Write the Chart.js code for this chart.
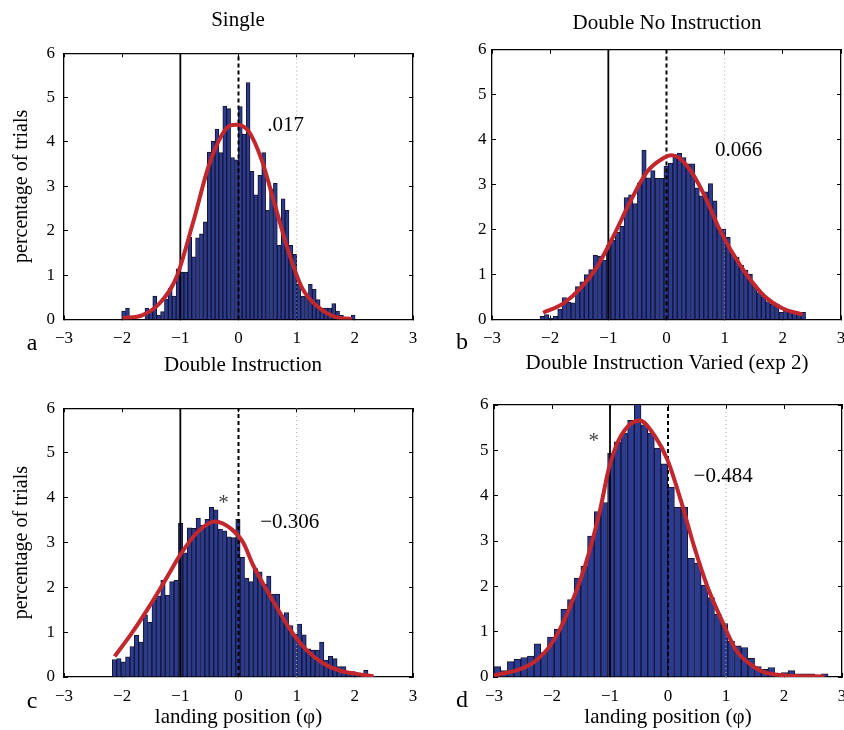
<!DOCTYPE html>
<html>
<head>
<meta charset="utf-8">
<script src="https://cdn.jsdelivr.net/npm/chart.js@4.4.1/dist/chart.umd.min.js"></script>
<style>
  html, body { margin: 0; padding: 0; background: #fff; }
  body { width: 844px; height: 730px; position: relative; overflow: hidden; font-family: "Liberation Serif", "Times New Roman", serif; }
  canvas { position: absolute; }
  .lbl { position: absolute; transform: translate(-50%, -50%); white-space: nowrap; font-size: 21px; line-height: 21px; color: #000; }
  .let { font-size: 24px; line-height: 24px; }
</style>
</head>
<body>
<canvas id="panelA" width="440" height="330" style="left:0px;top:30px"></canvas>
<canvas id="panelB" width="450" height="330" style="left:420px;top:30px"></canvas>
<canvas id="panelC" width="440" height="345" style="left:0px;top:385px"></canvas>
<canvas id="panelD" width="450" height="345" style="left:420px;top:385px"></canvas>

<div class="lbl" style="left:238px;top:19px">Single</div>
<div class="lbl" style="left:667px;top:22px">Double No Instruction</div>
<div class="lbl" style="left:243px;top:364px">Double Instruction</div>
<div class="lbl" style="left:667px;top:362px">Double Instruction Varied (exp 2)</div>
<div class="lbl let" style="left:32px;top:342px">a</div>
<div class="lbl let" style="left:462px;top:341px">b</div>
<div class="lbl let" style="left:32px;top:700px">c</div>
<div class="lbl let" style="left:462px;top:699px">d</div>

<script>
// x axis ticks (landing position) and y ticks (percentage of trials)
const xTicks = [-3, -2, -1, 0, 1, 2, 3];
const yTicks = [0, 1, 2, 3, 4, 5, 6];
// solid / dashed / dotted reference lines
const markerX = [-1, 0, 1];

// a: Single
const binStartA = -2.009, binWidthA = 0.0669;
const pctA = [0.19, 0.26, 0, 0, 0, 0, 0.26, 0.2, 0.53, 0.1,
  0.18, 0.46, 0.70, 0.53, 1.14, 1.07, 1.07, 1.85, 1.41, 1.84,
  1.93, 2.2, 3.77, 4.02, 4.29, 3.76, 4.81, 4.75, 3.65, 3.6,
  4.8, 4.18, 5.34, 3.34, 2.81, 3.25, 3.76, 2.46, 2.94, 3.07,
  1.67, 2.72, 2.46, 1.67, 1.47, 0.79, 0.53, 0.53, 0.79, 0.68,
  0.45, 0.26, 0.26, 0.26, 0.36, 0.19, 0.1, 0.05, 0.05, 0.1];
const fitXA = [-1.99, -1.65, -1.36, -1.07, -0.78, -0.5, -0.2, -0.06, 0.17, 0.4, 0.63, 0.86, 1.09, 1.37, 1.66, 1.95];
const fitYA = [0.03, 0.1, 0.36, 0.94, 2.19, 3.51, 4.32, 4.39, 4.25, 3.59, 2.56, 1.53, 0.72, 0.28, 0.06, 0.01];

// b: Double No Instruction
const binStartB = -2.175, binWidthB = 0.0761;
const pctB = [0.07, 0.11, 0.03, 0.07, 0.23, 0.49, 0.38, 0.37, 0.73, 0.84,
  1.0, 1.11, 1.43, 1.41, 1.32, 1.65, 1.76, 1.94, 2.07, 2.71,
  2.77, 2.58, 3.04, 3.77, 3.15, 3.31, 3.14, 3.14, 3.41, 3.48,
  3.66, 3.70, 3.6, 3.46, 3.46, 2.93, 2.75, 2.84, 3.02, 2.64,
  2.01, 2.01, 1.83, 1.48, 1.39, 1.21, 1.10, 1.01, 0.77, 0.6,
  0.51, 0.40, 0.34, 0.34, 0.16, 0.23, 0.16, 0.16, 0.11, 0.16];
const fitXB = [-2.12, -1.77, -1.48, -1.2, -0.91, -0.62, -0.33, -0.05, 0.08, 0.21, 0.44, 0.67, 0.9, 1.13, 1.41, 1.7, 1.99, 2.34];
const fitYB = [0.15, 0.36, 0.69, 1.16, 1.86, 2.63, 3.29, 3.59, 3.65, 3.6, 3.26, 2.71, 2.04, 1.49, 0.94, 0.5, 0.25, 0.11];

// c: Double Instruction
const binStartC = -2.17, binWidthC = 0.0758;
const pctC = [0.39, 0.41, 0.34, 0.45, 0.68, 0.93, 0.78, 1.39, 1.22, 1.71,
  1.81, 2.16, 1.83, 2.13, 2.16, 3.43, 2.77, 3.33, 3.32, 3.55,
  3.39, 3.52, 3.79, 3.73, 3.30, 3.26, 3.13, 3.11, 3.52, 2.67,
  2.21, 2.13, 2.42, 2.35, 2.07, 2.25, 1.85, 1.85, 1.37, 1.44,
  1.15, 0.95, 1.18, 0.94, 0.63, 0.6, 0.6, 0.78, 0.38, 0.46,
  0.41, 0.23, 0.23, 0.12, 0.12, 0.08, 0.04, 0.15, 0.01, 0.02];
const fitXC = [-2.13, -1.85, -1.56, -1.27, -0.98, -0.7, -0.41, -0.12, 0.08, 0.25, 0.48, 0.71, 0.94, 1.17, 1.46, 1.75, 2.03, 2.32];
const fitYC = [0.46, 0.95, 1.52, 2.14, 2.77, 3.24, 3.47, 3.3, 3.0, 2.5, 1.95, 1.44, 0.96, 0.6, 0.3, 0.14, 0.07, 0.02];

// d: Double Instruction Varied (exp 2)
const binStartD = -3.0, binWidthD = 0.1152;
const pctD = [0.23, 0.14, 0.34, 0.39, 0.43, 0.46, 0.73, 0.54, 0.88, 1.05,
  1.49, 1.71, 2.18, 2.44, 3.11, 3.65, 3.85, 4.94, 5.19, 5.38,
  5.66, 6.3, 5.56, 5.38, 5.05, 4.70, 4.19, 3.75, 3.75, 2.62,
  2.51, 2.03, 1.75, 1.38, 1.18, 0.79, 0.69, 0.65, 0.41, 0.23,
  0.17, 0.21, 0.04, 0.10, 0.14, 0.07, 0.07, 0.07, 0.04, 0.07];
const fitXD = [-3.0, -2.6, -2.3, -2.0, -1.72, -1.43, -1.17, -1.02, -0.82, -0.49, -0.22, -0.01, 0.22, 0.45, 0.68, 0.91, 1.17, 1.4, 1.63, 1.98, 2.7];
const fitYD = [0.04, 0.15, 0.34, 0.75, 1.45, 2.45, 3.69, 4.6, 5.3, 5.66, 5.3, 4.79, 3.9, 2.88, 1.99, 1.3, 0.6, 0.3, 0.12, 0.04, 0.01];

Chart.defaults.font.family = '"Liberation Serif", "Times New Roman", serif';
Chart.defaults.color = '#000';

// text notes placed in data coordinates
const notePlugin = {
  id: 'notes',
  afterDatasetsDraw(chart, args, opts) {
    const ctx = chart.ctx;
    const xs = chart.scales.x, ys = chart.scales.y;
    ctx.save();
    ctx.textAlign = 'center';
    ctx.textBaseline = 'middle';
    (opts.items || []).forEach(n => {
      ctx.font = (n.size || 21) + 'px "Liberation Serif"';
      ctx.fillStyle = n.color || '#000';
      ctx.fillText(n.text, xs.getPixelForValue(n.x), ys.getPixelForValue(n.y));
    });
    ctx.restore();
  }
};

function minusSign(v) {
  return String(v).replace('-', '\u2212');
}

function buildPanel(p) {
  const hist = p.pct.map((v, i) => ({ x: p.binStart + (i + 0.5) * p.binWidth, y: v }));
  const fit = p.fitX.map((x, i) => ({ x: x, y: p.fitY[i] }));
  const vline = x => [{ x: x, y: yTicks[0] }, { x: x, y: yTicks[yTicks.length - 1] }];
  const a = p.area;
  const frame = { display: true, color: '#000', width: 1.3 };
  const tickGrid = { drawOnChartArea: false, tickLength: -4, color: '#000', lineWidth: 1, offset: false };

  new Chart(document.getElementById(p.id), {
    type: 'bar',
    data: {
      datasets: [
        { type: 'line', data: fit, borderColor: '#c1272d', borderWidth: 4, pointRadius: 0, cubicInterpolationMode: 'monotone', order: 0 },
        { type: 'line', data: vline(markerX[0]), borderColor: '#000', borderWidth: 1.8, pointRadius: 0, order: 1 },
        { type: 'line', data: vline(markerX[1]), borderColor: '#000', borderWidth: 2, borderDash: [4, 3], pointRadius: 0, order: 1 },
        { type: 'line', data: vline(markerX[2]), borderColor: '#aaa', borderWidth: 1, borderDash: [1, 3], pointRadius: 0, order: 1 },
        { type: 'bar', data: hist, backgroundColor: '#2c3b92', borderColor: '#15152b', borderWidth: 1,
          barPercentage: 1, categoryPercentage: 1, order: 2 }
      ]
    },
    options: {
      responsive: false,
      animation: false,
      devicePixelRatio: 1,
      layout: { padding: { left: 0, top: a.top, right: p.w - a.right, bottom: 0 } },
      plugins: { legend: { display: false }, tooltip: { enabled: false }, notes: { items: p.notes } },
      scales: {
        x: {
          type: 'linear', position: 'bottom', min: xTicks[0], max: xTicks[xTicks.length - 1], offset: false,
          ticks: { stepSize: 1, padding: 13, font: { size: 17 }, color: '#000', maxRotation: 0, autoSkip: false, callback: minusSign },
          grid: tickGrid, border: frame,
          title: { display: !!p.xTitle, text: p.xTitle, font: { size: 21 }, padding: { top: 0, bottom: 0 } },
          afterFit: s => { s.height = p.h - a.bottom; }
        },
        x2: {
          type: 'linear', position: 'top', min: xTicks[0], max: xTicks[xTicks.length - 1], offset: false,
          ticks: { stepSize: 1, display: false }, grid: tickGrid, border: frame,
          afterFit: s => { s.height = 0; }
        },
        y: {
          type: 'linear', position: 'left', min: yTicks[0], max: yTicks[yTicks.length - 1],
          ticks: { stepSize: 1, padding: p.yPad, font: { size: 17 }, color: '#000' },
          grid: tickGrid, border: frame,
          title: { display: !!p.yTitle, text: p.yTitle, font: { size: 20 }, padding: { top: 10, bottom: 0 } },
          afterFit: s => { s.width = a.left; }
        },
        y2: {
          type: 'linear', position: 'right', min: yTicks[0], max: yTicks[yTicks.length - 1],
          ticks: { stepSize: 1, display: false }, grid: tickGrid, border: frame,
          afterFit: s => { s.width = 0; }
        }
      }
    },
    plugins: [notePlugin]
  });
}

buildPanel({
  id: 'panelA', w: 440, h: 330, area: { left: 64, top: 19, right: 413, bottom: 289.5 }, yPad: 13,
  binStart: binStartA, binWidth: binWidthA, pct: pctA, fitX: fitXA, fitY: fitYA,
  yTitle: 'percentage of trials',
  notes: [{ text: '.017', x: 0.81, y: 4.37 }]
});
buildPanel({
  id: 'panelB', w: 450, h: 330, area: { left: 72, top: 19, right: 421, bottom: 289.5 }, yPad: 9.5,
  binStart: binStartB, binWidth: binWidthB, pct: pctB, fitX: fitXB, fitY: fitYB,
  notes: [{ text: '0.066', x: 1.24, y: 3.75 }]
});
buildPanel({
  id: 'panelC', w: 440, h: 345, area: { left: 64, top: 20, right: 413, bottom: 292 }, yPad: 13,
  binStart: binStartC, binWidth: binWidthC, pct: pctC, fitX: fitXC, fitY: fitYC,
  yTitle: 'percentage of trials', xTitle: 'landing position (\u03c6)',
  notes: [{ text: '\u22120.306', x: 0.88, y: 3.45 }, { text: '*', x: -0.26, y: 3.88, color: '#444' }]
});
buildPanel({
  id: 'panelD', w: 450, h: 345, area: { left: 74, top: 20, right: 422, bottom: 292 }, yPad: 9.5,
  binStart: binStartD, binWidth: binWidthD, pct: pctD, fitX: fitXD, fitY: fitYD,
  xTitle: 'landing position (\u03c6)',
  notes: [{ text: '\u22120.484', x: 0.95, y: 4.43 }, { text: '*', x: -1.28, y: 5.19, color: '#444' }]
});
</script>
</body>
</html>
